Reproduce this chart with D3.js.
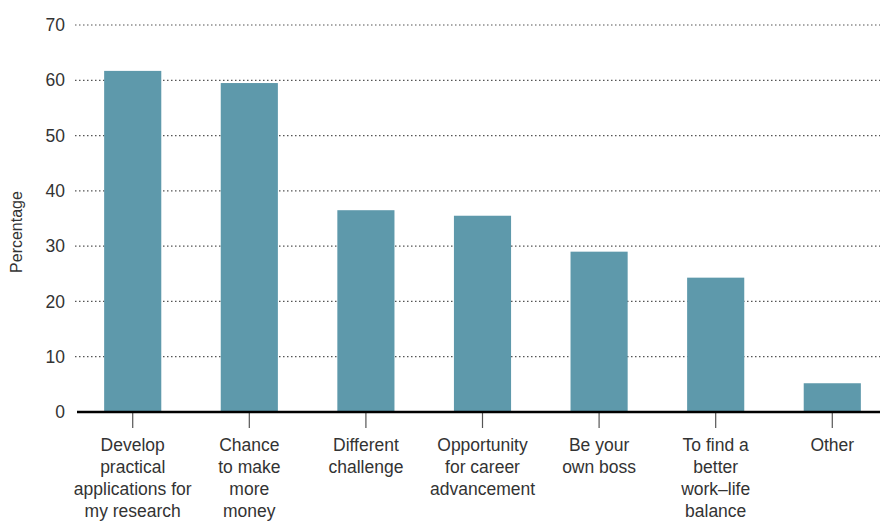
<!DOCTYPE html>
<html>
<head>
<meta charset="utf-8">
<script src="https://cdn.jsdelivr.net/npm/d3@7"></script>
<style>
  body { margin: 0; background: #fff; }
  svg { display: block; font-family: "Liberation Sans", Arial, sans-serif; }
</style>
</head>
<body>
<script>
// values
const categories = [
    ["Develop", "practical", "applications for", "my research"],
    ["Chance", "to make", "more", "money"],
    ["Different", "challenge"],
    ["Opportunity", "for career", "advancement"],
    ["Be your", "own boss"],
    ["To find a", "better", "work\u2013life", "balance"],
    ["Other"]
];
const percentages = [61.7, 59.5, 36.5, 35.5, 29, 24.3, 5.2];
const yTicks = [0, 10, 20, 30, 40, 50, 60, 70];

const width = 880;
const height = 521;
//margins, worked out from the reference picture
const marginLeft = 75;
const marginRight = 0;
const marginTop = 25;
const marginBottom = 109;

const keys = categories.map((c, i) => i);

const x = d3.scaleBand()
    .domain(keys)
    .range([marginLeft, width + 10])
    .paddingInner(0.51)
    .paddingOuter(0.25);

const y = d3.scaleLinear()
    .domain([0, 70])
    .range([height - marginBottom, marginTop]);

const svg = d3.select("body").append("svg")
    .attr("width", width)
    .attr("height", height)
    .attr("viewBox", [0, 0, width, height]);

// dotted gridlines
svg.append("g")
    .selectAll("line")
    .data(yTicks.filter(d => d > 0))
    .join("line")
    .attr("x1", marginLeft)
    .attr("x2", width - marginRight)
    .attr("y1", d => y(d))
    .attr("y2", d => y(d))
    .attr("stroke", "#555")
    .attr("stroke-width", 1.2)
    .attr("stroke-dasharray", "1.5,2.5");

// y axis labels only
const yAxis = d3.axisLeft(y).tickValues(yTicks).tickSize(0).tickPadding(10);
svg.append("g")
    .attr("transform", `translate(${marginLeft},0)`)
    .call(yAxis)
    .call(g => g.select(".domain").remove())
    .selectAll("text")
    .attr("font-size", "17.5px")
    .attr("font-family", "Liberation Sans, Arial, sans-serif")
    .attr("fill", "#333");

// bars
svg.append("g")
    .attr("fill", "#5e99ab")
    .selectAll("rect")
    .data(percentages)
    .join("rect")
    .attr("x", (d, i) => x(i))
    .attr("width", x.bandwidth())
    .attr("y", d => y(d))
    .attr("height", d => y(0) - y(d));

// x axis: ticks + multi-line labels
const xAxis = d3.axisBottom(x).tickSize(16).tickFormat("");
const xg = svg.append("g")
    .attr("transform", `translate(0,${y(0)})`)
    .call(xAxis);
xg.select(".domain").remove();
xg.selectAll(".tick line").attr("stroke", "#555").attr("stroke-width", 1.2);

xg.selectAll(".tick")
    .append("text")
    .attr("fill", "#333")
    .attr("font-size", "17.5px")
    .attr("font-family", "Liberation Sans, Arial, sans-serif")
    .attr("text-anchor", "middle")
    .selectAll("tspan")
    .data(i => categories[i])
    .join("tspan")
    .attr("x", 0)
    .attr("y", (d, j) => 39 + j * 22)
    .text(d => d);

// baseline
svg.append("line")
    .attr("x1", marginLeft + 2)
    .attr("x2", width)
    .attr("y1", y(0))
    .attr("y2", y(0))
    .attr("stroke", "#000")
    .attr("stroke-width", 2.6);

svg.append("text") //vertical axis title
    .text("Percentage")
    .attr("font-size", "16px")
    .attr("fill", "#333")
    .attr("text-anchor", "middle")
    .attr("transform", `translate(22,232) rotate(-90)`);
</script>
</body>
</html>
